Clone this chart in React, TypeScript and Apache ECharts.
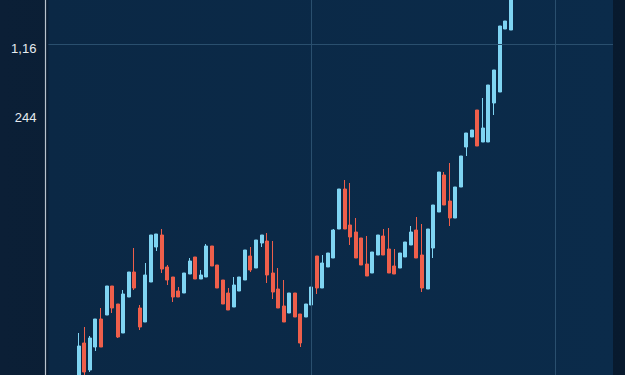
import React, { useEffect, useRef } from "react";
import * as echarts from "echarts";

// Candle data: [open, close, low, high]
const opens = [0, 32, 5, 28, 56, 60, 89, 71, 42, 78, 103, 67, 53, 93, 128, 140, 108, 98, 84, 82, 101, 118, 96, 98, 129, 110, 95, 82, 68, 84, 95, 119, 107, 132, 134, 102, 86, 69, 62, 82, 61, 58, 70, 119, 87, 108, 117, 146, 186, 150, 143, 137, 111, 102, 120, 139, 126, 109, 107, 118, 130, 145, 120, 86, 127, 163, 200, 174, 157, 188, 228, 238, 265, 233, 233, 272, 283, 346, 345];
const closes = [29, 3, 37, 56, 28, 89, 67, 38, 81, 103, 87, 48, 100, 140, 141, 106, 95, 78, 78, 102, 114, 96, 100, 129, 109, 87, 71, 65, 90, 98, 125, 105, 135, 140, 100, 83, 67, 53, 82, 58, 32, 71, 88, 87, 112, 122, 145, 186, 146, 138, 117, 110, 99, 123, 140, 120, 102, 101, 122, 133, 143, 117, 87, 146, 170, 203, 170, 157, 188, 219, 242, 245, 229, 247, 290, 305, 349, 354, 380];
const lows = [-5, 0, 3, 24, 28, 60, 62, 37, 42, 78, 85, 45, 53, 93, 124, 102, 90, 73, 78, 82, 101, 96, 96, 98, 109, 87, 71, 65, 68, 84, 95, 103, 107, 128, 92, 76, 67, 53, 62, 58, 28, 58, 70, 81, 87, 108, 117, 146, 146, 130, 117, 110, 99, 102, 120, 120, 102, 101, 107, 118, 130, 117, 83, 86, 117, 163, 170, 149, 157, 188, 228, 238, 229, 233, 233, 260, 283, 346, 345];
const highs = [42, 48, 39, 56, 67, 89, 89, 71, 85, 103, 127, 70, 112, 140, 141, 146, 110, 98, 88, 102, 117, 118, 105, 131, 129, 110, 95, 87, 98, 98, 125, 128, 128, 135, 142, 134, 107, 95, 69, 82, 61, 58, 74, 88, 120, 112, 146, 146, 195, 192, 157, 137, 139, 111, 123, 146, 147, 126, 109, 126, 149, 158, 151, 88, 146, 182, 203, 212, 174, 198, 219, 242, 247, 277, 247, 290, 305, 354, 359, 380];
const yTickValues = [258, 327];
const yTickLabels = ["244", "1,16"];
const gridLineValue = 331;
const leadingEmpty = 5;
const totalCategories = 102;
const verticalGridIndices = [47, 91];

export default function App() {
  const ref = useRef<HTMLDivElement>(null);
  useEffect(() => {
    document.body.style.margin = "0";
    const chart = echarts.init(ref.current!, null, { renderer: "svg" });
    const categories: string[] = [];
    const data: any[] = [];
    for (let i = 0; i < totalCategories; i++) {
      categories.push(String(i));
      const k = i - leadingEmpty;
      if (k >= 0 && k < opens.length) {
        data.push([opens[k], closes[k], lows[k], highs[k]]);
      } else {
        data.push("-");
      }
    }
    const gridColor = "#2a4f6e";
    chart.setOption({
      animation: false,
      backgroundColor: {
        type: "linear", x: 0, y: 0, x2: 1, y2: 0,
        colorStops: [
          { offset: 0, color: "#0b1f36" },
          { offset: 1, color: "#081a2e" },
        ],
      },
      grid: {
        left: 48.4, right: 12, top: 0, bottom: 0,
        show: true,
        borderWidth: 0,
        backgroundColor: {
          type: "linear", x: 0, y: 0, x2: 1, y2: 0,
          colorStops: [
            { offset: 0, color: "#0b2845" },
            { offset: 1, color: "#0b2b4a" },
          ],
        },
      },
      xAxis: {
        type: "category",
        data: categories,
        boundaryGap: true,
        axisLine: { show: false },
        axisTick: { show: false },
        axisLabel: { show: false },
        splitLine: { show: false },
      },
      yAxis: {
        type: "value",
        min: 0,
        max: 375,
        offset: 3,
        axisLine: { show: true, lineStyle: { color: "#b9c3cd", width: 1.2 } },
        axisTick: { show: false },
        splitLine: { show: false },
        axisLabel: {
          show: true,
          customValues: yTickValues,
          color: "#e6ebf0",
          fontSize: 13,
          fontFamily: "Liberation Sans, Arial, sans-serif",
          margin: 9,
          formatter: (v: number) => {
            const i = yTickValues.indexOf(v);
            return i >= 0 ? yTickLabels[i] : "";
          },
        },
      },
      series: [
        {
          type: "candlestick",
          data,
          barWidth: 3.5,
          clip: true,
          itemStyle: {
            color: "#7fd4f2",
            color0: "#ee5f4b",
            borderColor: "#7fd4f2",
            borderColor0: "#ee5f4b",
            borderWidth: 1,
          },
          markLine: {
            silent: true,
            symbol: "none",
            label: { show: false },
            lineStyle: { color: gridColor, width: 1, type: "solid" },
            data: [
              { yAxis: gridLineValue },
              ...verticalGridIndices.map((i) => ({ xAxis: i })),
            ],
          },
        },
      ],
    });
    return () => chart.dispose();
  }, []);
  return <div ref={ref} style={{ width: 625, height: 375 }} />;
}
